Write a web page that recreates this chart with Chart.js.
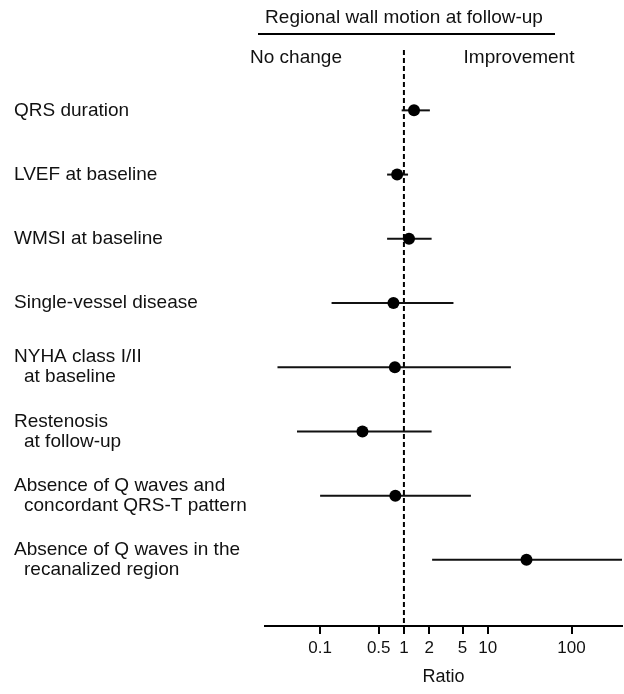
<!DOCTYPE html>
<html>
<head>
<meta charset="utf-8">
<script src="https://cdn.jsdelivr.net/npm/chart.js@4.4.1/dist/chart.umd.min.js"></script>
<style>
  html, body { margin: 0; padding: 0; background: #fff; overflow: hidden; }
  #wrap { width: 624px; height: 694px; }
</style>
</head>
<body>
<div id="wrap"><canvas id="forest"></canvas></div>
<script>
// rows, top to bottom (extra lines are indented)
var rowLabels = [
  ["QRS duration"],
  ["LVEF at baseline"],
  ["WMSI at baseline"],
  ["Single-vessel disease"],
  ["NYHA class I/II", "at baseline"],
  ["Restenosis", "at follow-up"],
  ["Absence of Q waves and", "concordant QRS-T pattern"],
  ["Absence of Q waves in the", "recanalized region"]
];
var ratios = [1.32, 0.83, 1.15, 0.75, 0.78, 0.32, 0.79, 29];
var ciLow  = [0.94, 0.63, 0.63, 0.137, 0.031, 0.053, 0.10, 2.17];
var ciHigh = [2.04, 1.12, 2.14, 3.9, 18.9, 2.14, 6.3, 400];
var tickValues = [0.1, 0.5, 1, 2, 5, 10, 100];

var headerTitle = "Regional wall motion at follow-up";
var leftNote = "No change";
var rightNote = "Improvement";
var axisTitle = "Ratio";

var FONT = "'Liberation Sans', Arial, sans-serif";
var yMin = -0.94, yMax = 8.03;

var datasets = [];
// points first so they sit on top
datasets.push({
  type: "scatter",
  data: ratios.map(function (r, i) { return { x: r, y: i }; }),
  pointRadius: 6,
  pointBackgroundColor: "#000",
  pointBorderColor: "#000",
  pointBorderWidth: 0
});
// confidence intervals
for (var i = 0; i < ratios.length; i++) {
  datasets.push({
    type: "line",
    data: [{ x: ciLow[i], y: i }, { x: ciHigh[i], y: i }],
    borderColor: "#111",
    borderWidth: 2,
    pointRadius: 0
  });
}
// line of no effect
datasets.push({
  type: "line",
  data: [{ x: 1, y: yMin }, { x: 1, y: yMax }],
  borderColor: "#000",
  borderWidth: 2,
  borderDash: [5, 3],
  pointRadius: 0,
  clip: false
});

var textPlugin = {
  id: "forestText",
  afterDraw: function (chart) {
    var c = chart.ctx;
    var ys = chart.scales.y;
    c.save();
    c.fillStyle = "#111";
    c.font = "19px " + FONT;
    c.textBaseline = "middle";

    // header
    c.textAlign = "center";
    c.fillText(headerTitle, 404, 18);
    c.fillText(leftNote, 296, 58);
    c.fillText(rightNote, 519, 58);
    c.strokeStyle = "#000";
    c.lineWidth = 2;
    c.beginPath();
    c.moveTo(258, 34);
    c.lineTo(555, 34);
    c.stroke();

    // row labels
    c.textAlign = "left";
    rowLabels.forEach(function (lines, i) {
      var y = ys.getPixelForValue(i);
      var y0 = y - (lines.length - 1) * 10;
      lines.forEach(function (t, k) {
        c.fillText(t, k === 0 ? 14 : 24, y0 + k * 20);
      });
    });
    c.restore();
  }
};

new Chart(document.getElementById("forest"), {
  data: { datasets: datasets },
  options: {
    responsive: true,
    maintainAspectRatio: false,
    animation: false,
    layout: { autoPadding: false, padding: { left: 265, right: 2, top: 50, bottom: 6 } },
    plugins: { legend: { display: false }, tooltip: { enabled: false } },
    scales: {
      x: {
        type: "logarithmic",
        min: 0.022,
        max: 400,
        afterBuildTicks: function (scale) {
          scale.ticks = tickValues.map(function (v) { return { value: v }; });
        },
        afterFit: function (scale) {
          scale.paddingLeft = 0;
          scale.paddingRight = 0;
        },
        ticks: {
          color: "#111",
          font: { family: FONT, size: 17 },
          padding: 4,
          maxRotation: 0,
          autoSkip: false,
          callback: function (v) { return String(v); }
        },
        grid: {
          display: true,
          drawOnChartArea: false,
          drawTicks: true,
          tickLength: 8,
          color: "#000",
          lineWidth: 2
        },
        border: { display: true, color: "#000", width: 2 },
        title: {
          display: true,
          text: axisTitle,
          color: "#111",
          font: { family: FONT, size: 18 },
          padding: { top: 4, bottom: 0 }
        }
      },
      y: {
        type: "linear",
        reverse: true,
        min: yMin,
        max: yMax,
        display: false
      }
    }
  },
  plugins: [textPlugin]
});
</script>
</body>
</html>
